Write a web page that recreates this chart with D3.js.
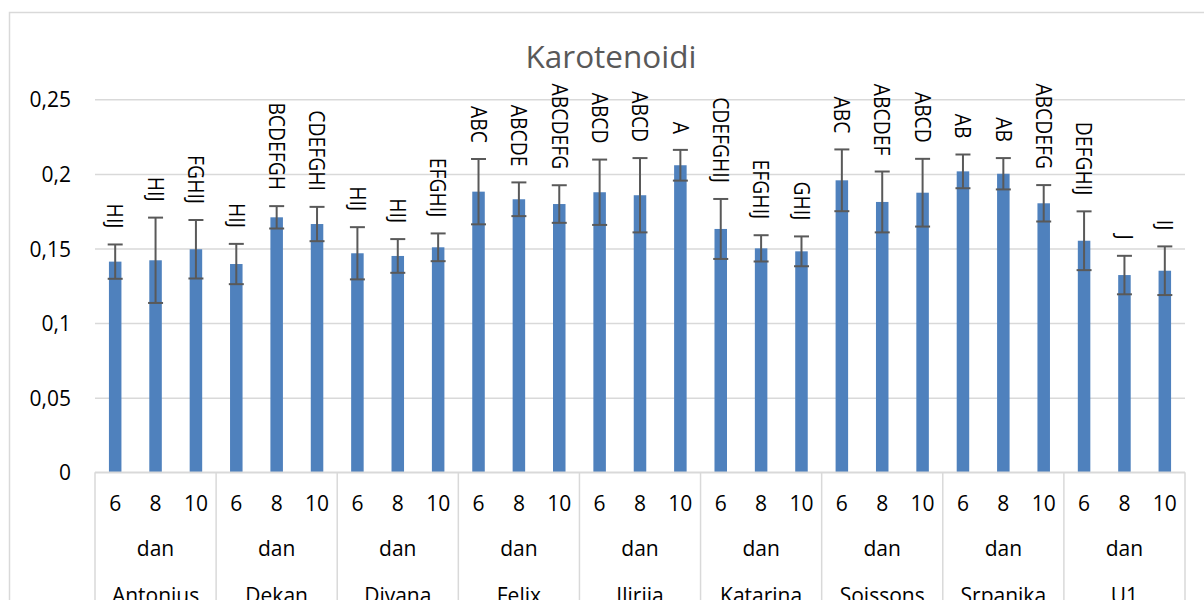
<!DOCTYPE html>
<html>
<head>
<meta charset="utf-8">
<script src="https://cdn.jsdelivr.net/npm/d3@7"></script>
<style>
  html, body { margin: 0; padding: 0; background: #fff; }
  svg { display: block; font-family: "Open Sans", sans-serif; }
</style>
</head>
<body>
<svg id="chart" width="1204" height="600"></svg>
<script>
const title = "Karotenoidi";
const groups = ["Antonius", "Dekan", "Divana", "Felix", "Ilirija", "Katarina", "Soissons", "Srpanjka", "U1"];
const days = ["6", "8", "10"];
const dayWord = "dan";
const values = [0.1412, 0.1421, 0.1495, 0.1396, 0.1709, 0.1664, 0.1468, 0.1450, 0.1508,
                0.1881, 0.1830, 0.1798, 0.1877, 0.1857, 0.2058, 0.1631, 0.1501, 0.1481,
                0.1957, 0.1812, 0.1874, 0.2017, 0.2001, 0.1803, 0.1552, 0.1322, 0.1351];
const errors = [0.0115, 0.0286, 0.0196, 0.0135, 0.0075, 0.0115, 0.0175, 0.0113, 0.0093,
                0.0219, 0.0113, 0.0126, 0.0219, 0.0249, 0.0103, 0.0201, 0.0088, 0.0100,
                0.0207, 0.0204, 0.0227, 0.0113, 0.0105, 0.0122, 0.0197, 0.0129, 0.0163];
const letters = ["HIJ", "HIJ", "FGHIJ", "HIJ", "BCDEFGH", "CDEFGHI", "HIJ", "HIJ", "EFGHIJ",
                 "ABC", "ABCDE", "ABCDEFG", "ABCD", "ABCD", "A", "CDEFGHIJ", "EFGHIJ", "GHIJ",
                 "ABC", "ABCDEF", "ABCD", "AB", "AB", "ABCDEFG", "DEFGHIJ", "J", "IJ"];
const yTicks = [0, 0.05, 0.1, 0.15, 0.2, 0.25];
const yTickLabels = ["0", "0,05", "0,1", "0,15", "0,2", "0,25"];

const data = [];
groups.forEach((g, gi) => days.forEach((d, di) => {
  const i = gi * days.length + di;
  data.push({ id: g + "-" + d, group: g, day: d, value: values[i], err: errors[i], letter: letters[i] });
}));

const svg = d3.select("#chart");
const W = 1204, H = 600;
const plot = { left: 95, right: 1185, top: 99.3, bottom: 472.3 };
const gridColor = "#d9d9d9";

// chart frame
svg.append("rect").attr("x", 9.5).attr("y", 12.5).attr("width", W + 20).attr("height", H + 20)
  .attr("fill", "#fff").attr("stroke", gridColor).attr("stroke-width", 1.5);

const x = d3.scaleBand().domain(data.map(d => d.id)).range([plot.left, plot.right])
  .paddingInner(0.69).paddingOuter(0.345);
const y = d3.scaleLinear().domain([0, 0.25]).range([plot.bottom, plot.top]);

// gridlines + y labels
const yAxis = d3.axisLeft(y).tickValues(yTicks)
  .tickFormat((d, i) => yTickLabels[i]).tickSize(-(plot.right - plot.left)).tickPadding(24);
const gy = svg.append("g").attr("transform", `translate(${plot.left},0)`).call(yAxis);
gy.select(".domain").remove();
gy.selectAll(".tick line").attr("stroke", gridColor).attr("stroke-width", 1.5);
gy.selectAll(".tick text").attr("fill", "#000").attr("font-size", "21px")
  .attr("font-family", "'Open Sans', sans-serif").attr("dy", "0.36em");

// bars
svg.append("g").selectAll("rect").data(data).join("rect")
  .attr("x", d => x(d.id)).attr("width", x.bandwidth())
  .attr("y", d => y(d.value)).attr("height", d => y(0) - y(d.value))
  .attr("fill", "#4f81bd");

// error bars
const eb = svg.append("g").attr("stroke", "#595959").attr("stroke-width", 2);
data.forEach(d => {
  const cx = x(d.id) + x.bandwidth() / 2;
  const y1 = y(d.value + d.err), y2 = y(d.value - d.err);
  eb.append("line").attr("x1", cx).attr("x2", cx).attr("y1", y1).attr("y2", y2);
  eb.append("line").attr("x1", cx - 7.5).attr("x2", cx + 7.5).attr("y1", y1).attr("y2", y1);
  eb.append("line").attr("x1", cx - 7.5).attr("x2", cx + 7.5).attr("y1", y2).attr("y2", y2);
});

// letter labels (rotated)
svg.append("g").selectAll("text").data(data).join("text")
  .attr("transform", d => `translate(${x(d.id) + x.bandwidth() / 2},${y(d.value + d.err) - 16}) rotate(90) scale(0.9,1)`)
  .attr("text-anchor", "end").attr("dy", "0.36em")
  .attr("font-size", "21.5px").attr("fill", "#000")
  .text(d => d.letter);

// category axis
const ax = svg.append("g");
ax.append("line").attr("x1", plot.left).attr("x2", plot.right)
  .attr("y1", plot.bottom).attr("y2", plot.bottom).attr("stroke", gridColor).attr("stroke-width", 1.5);
const step = x.step();
for (let gi = 0; gi <= groups.length; gi++) {
  const bx = plot.left + gi * days.length * step;
  ax.append("line").attr("x1", bx).attr("x2", bx).attr("y1", plot.bottom).attr("y2", H + 5)
    .attr("stroke", gridColor).attr("stroke-width", 1.5);
}
ax.selectAll("text.day").data(data).join("text").attr("class", "day")
  .attr("x", d => x(d.id) + x.bandwidth() / 2).attr("y", 511)
  .attr("text-anchor", "middle").attr("font-size", "21px").attr("fill", "#000")
  .text(d => d.day);
groups.forEach((g, gi) => {
  const cx = plot.left + (gi + 0.5) * days.length * step;
  ax.append("text").attr("x", cx).attr("y", 556).attr("text-anchor", "middle")
    .attr("font-size", "21px").attr("fill", "#000").text(dayWord);
  ax.append("text").attr("x", cx).attr("y", 603).attr("text-anchor", "middle")
    .attr("font-size", "21px").attr("fill", "#000").text(g);
});

// title
svg.append("text").attr("x", 611).attr("y", 68).attr("text-anchor", "middle")
  .attr("font-size", "31.5px").attr("fill", "#595959").text(title);
</script>
</body>
</html>
